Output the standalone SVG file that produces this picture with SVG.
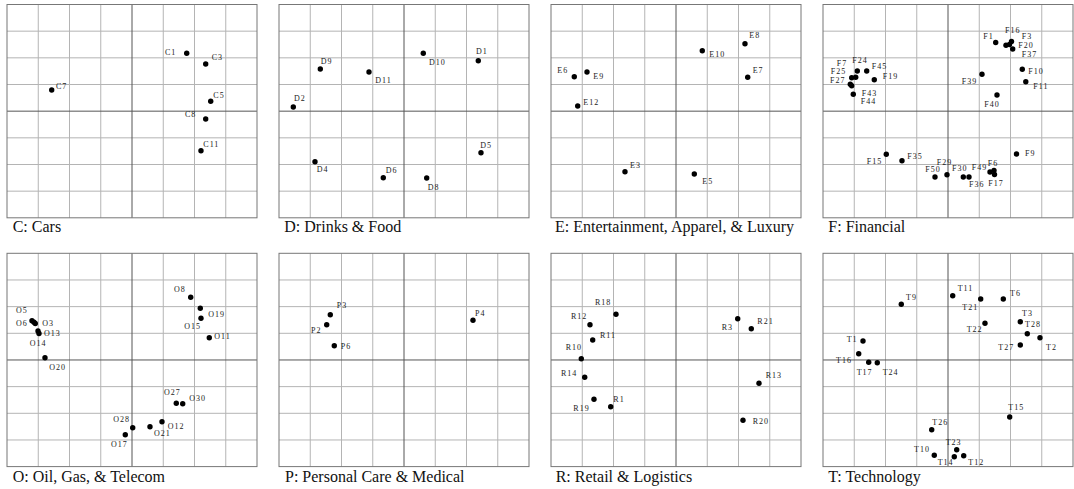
<svg xmlns="http://www.w3.org/2000/svg" width="1074" height="489" viewBox="0 0 1074 489">
<style>
.g{stroke:#b4b4b4;stroke-width:1;fill:none}
.c{stroke:#555;stroke-width:1;fill:none}
.b{stroke:#777;stroke-width:1;fill:none}
circle{fill:#000}
.pt text{font-family:"Liberation Serif",serif;font-size:8px;letter-spacing:1px;fill:#222}
.tt{font-family:"Liberation Serif",serif;font-size:16px;fill:#111}
</style>
<defs>
<g id="grid">
<rect x="0" y="0" width="250" height="213.3" fill="#fff"/>
<path class="g" d="M31.25,0V213.3M62.5,0V213.3M93.75,0V213.3M156.25,0V213.3M187.5,0V213.3M218.75,0V213.3M0,26.67H250M0,53.33H250M0,80H250M0,133.33H250M0,160H250M0,186.67H250"/>
<path class="c" d="M125,0V213.3M0,106.67H250"/>
<rect class="b" x="0" y="0" width="250" height="213.3"/>
</g>
</defs>
<rect width="1074" height="489" fill="#fff"/>

<g id="panel-C">
<use href="#grid" x="7" y="4.5"/>
<text class="tt" x="12.7" y="232">C: Cars</text>
<g class="pt" id="C1"><circle cx="186.7" cy="53.3" r="2.7"/><text x="165" y="54.5">C1</text></g>
<g class="pt" id="C3"><circle cx="205.7" cy="64" r="2.7"/><text x="211.7" y="60">C3</text></g>
<g class="pt" id="C7"><circle cx="51.7" cy="90" r="2.7"/><text x="56" y="88.5">C7</text></g>
<g class="pt" id="C5"><circle cx="210.7" cy="101.3" r="2.7"/><text x="213.3" y="97.8">C5</text></g>
<g class="pt" id="C8"><circle cx="205.7" cy="119" r="2.7"/><text x="185" y="117">C8</text></g>
<g class="pt" id="C11"><circle cx="201" cy="150.7" r="2.7"/><text x="203.3" y="147">C11</text></g>
</g>

<g id="panel-D">
<use href="#grid" x="279" y="4.5"/>
<text class="tt" x="284.3" y="232">D: Drinks &amp; Food</text>
<g class="pt" id="D10"><circle cx="423.3" cy="53.3" r="2.7"/><text x="429" y="64.5">D10</text></g>
<g class="pt" id="D1"><circle cx="478.3" cy="60.7" r="2.7"/><text x="476" y="53.5">D1</text></g>
<g class="pt" id="D9"><circle cx="320.3" cy="69" r="2.7"/><text x="320.7" y="63.5">D9</text></g>
<g class="pt" id="D11"><circle cx="369" cy="72" r="2.7"/><text x="375.3" y="82.8">D11</text></g>
<g class="pt" id="D2"><circle cx="293.3" cy="107" r="2.7"/><text x="294" y="101">D2</text></g>
<g class="pt" id="D5"><circle cx="481" cy="152.7" r="2.7"/><text x="480.3" y="147.5">D5</text></g>
<g class="pt" id="D4"><circle cx="315" cy="161.7" r="2.7"/><text x="316.7" y="171.8">D4</text></g>
<g class="pt" id="D6"><circle cx="383.3" cy="177.7" r="2.7"/><text x="385.7" y="172.8">D6</text></g>
<g class="pt" id="D8"><circle cx="426.7" cy="178" r="2.7"/><text x="427.7" y="190">D8</text></g>
</g>

<g id="panel-E">
<use href="#grid" x="551" y="4.5"/>
<text class="tt" x="555" y="232">E: Entertainment, Apparel, &amp; Luxury</text>
<g class="pt" id="E8"><circle cx="745" cy="43.7" r="2.7"/><text x="749.3" y="37.8">E8</text></g>
<g class="pt" id="E10"><circle cx="702.3" cy="50.7" r="2.7"/><text x="709.3" y="57">E10</text></g>
<g class="pt" id="E6"><circle cx="574.3" cy="76.7" r="2.7"/><text x="557.3" y="72.8">E6</text></g>
<g class="pt" id="E9"><circle cx="587" cy="72" r="2.7"/><text x="593.3" y="78.8">E9</text></g>
<g class="pt" id="E7"><circle cx="747.7" cy="77.3" r="2.7"/><text x="752.7" y="72.8">E7</text></g>
<g class="pt" id="E12"><circle cx="577.7" cy="106" r="2.7"/><text x="583.3" y="105">E12</text></g>
<g class="pt" id="E3"><circle cx="625" cy="171.7" r="2.7"/><text x="630" y="167.8">E3</text></g>
<g class="pt" id="E5"><circle cx="694.3" cy="174" r="2.7"/><text x="702.3" y="183.8">E5</text></g>
</g>

<g id="panel-F">
<use href="#grid" x="823" y="4.5"/>
<text class="tt" x="828.3" y="232">F: Financial</text>
<g class="pt" id="F1"><circle cx="995.7" cy="42.5" r="2.7"/><text x="983.3" y="39">F1</text></g>
<g class="pt" id="F16"><circle cx="1011.5" cy="41.5" r="2.7"/><text x="1005" y="33">F16</text></g>
<g class="pt" id="F3"><circle cx="1009.5" cy="44.5" r="2.7"/><text x="1021.7" y="38.8">F3</text></g>
<g class="pt" id="F20"><circle cx="1006" cy="45.3" r="2.7"/><text x="1018.3" y="47.8">F20</text></g>
<g class="pt" id="F37"><circle cx="1012.7" cy="49" r="2.7"/><text x="1021.7" y="56.8">F37</text></g>
<g class="pt" id="F10"><circle cx="1022.3" cy="69.2" r="2.7"/><text x="1028.3" y="73.5">F10</text></g>
<g class="pt" id="F11"><circle cx="1025.8" cy="81.8" r="2.7"/><text x="1033.3" y="88.5">F11</text></g>
<g class="pt" id="F39"><circle cx="982" cy="74.3" r="2.7"/><text x="961.7" y="83.5">F39</text></g>
<g class="pt" id="F40"><circle cx="997" cy="95" r="2.7"/><text x="984.3" y="106.8">F40</text></g>
<g class="pt" id="F24"><circle cx="857.3" cy="71" r="2.7"/><text x="852.3" y="62.8">F24</text></g>
<g class="pt" id="F45"><circle cx="866.7" cy="71" r="2.7"/><text x="871.7" y="68.5">F45</text></g>
<g class="pt" id="F7"><circle cx="855.7" cy="77.3" r="2.7"/><text x="836.7" y="65.5">F7</text></g>
<g class="pt" id="F25"><circle cx="851.7" cy="77.7" r="2.7"/><text x="830.7" y="74.3">F25</text></g>
<g class="pt" id="F19"><circle cx="874.3" cy="79.7" r="2.7"/><text x="882.7" y="78.8">F19</text></g>
<g class="pt" id="F27"><circle cx="850.3" cy="84.3" r="2.7"/><text x="830" y="83.3">F27</text></g>
<g class="pt" id="F43"><circle cx="851.7" cy="85.7" r="2.7"/><text x="861.7" y="95.5">F43</text></g>
<g class="pt" id="F44"><circle cx="853.3" cy="94.3" r="2.7"/><text x="860.7" y="104.3">F44</text></g>
<g class="pt" id="F9"><circle cx="1016.5" cy="154" r="2.7"/><text x="1025" y="155.5">F9</text></g>
<g class="pt" id="F15"><circle cx="886.3" cy="154.3" r="2.7"/><text x="866.7" y="163.5">F15</text></g>
<g class="pt" id="F35"><circle cx="902" cy="160.7" r="2.7"/><text x="907.3" y="158.5">F35</text></g>
<g class="pt" id="F29"><circle cx="947" cy="174.7" r="2.7"/><text x="936.7" y="164.5">F29</text></g>
<g class="pt" id="F50"><circle cx="935" cy="177" r="2.7"/><text x="925.3" y="172">F50</text></g>
<g class="pt" id="F30"><circle cx="963.3" cy="177" r="2.7"/><text x="952" y="171">F30</text></g>
<g class="pt" id="F36"><circle cx="969" cy="177" r="2.7"/><text x="969" y="187">F36</text></g>
<g class="pt" id="F49"><circle cx="990" cy="172" r="2.7"/><text x="971.7" y="169.5">F49</text></g>
<g class="pt" id="F6"><circle cx="994" cy="170.5" r="2.7"/><text x="987.7" y="165.5">F6</text></g>
<g class="pt" id="F17"><circle cx="994.5" cy="174.5" r="2.7"/><text x="988.3" y="186">F17</text></g>
</g>

<g id="panel-O">
<use href="#grid" x="7" y="253.3"/>
<text class="tt" x="12.7" y="481.5">O: Oil, Gas, &amp; Telecom</text>
<g class="pt" id="O8"><circle cx="190.7" cy="297.3" r="2.7"/><text x="174" y="291.8">O8</text></g>
<g class="pt" id="O19"><circle cx="200.3" cy="308.3" r="2.7"/><text x="208.3" y="316.8">O19</text></g>
<g class="pt" id="O15"><circle cx="201" cy="318.3" r="2.7"/><text x="184.3" y="328.8">O15</text></g>
<g class="pt" id="O11"><circle cx="209.3" cy="337.7" r="2.7"/><text x="214.3" y="338.8">O11</text></g>
<g class="pt" id="O5"><circle cx="32" cy="320.7" r="2.7"/><text x="16" y="312.8">O5</text></g>
<g class="pt" id="O6"><circle cx="34" cy="322.3" r="2.7"/><text x="16" y="326">O6</text></g>
<g class="pt" id="O3"><circle cx="35.3" cy="323.5" r="2.7"/><text x="42.3" y="325.5">O3</text></g>
<g class="pt" id="O14"><circle cx="38" cy="331" r="2.7"/><text x="29.7" y="346">O14</text></g>
<g class="pt" id="O13"><circle cx="39" cy="333.5" r="2.7"/><text x="44" y="336">O13</text></g>
<g class="pt" id="O20"><circle cx="45" cy="357.7" r="2.7"/><text x="49.3" y="369.5">O20</text></g>
<g class="pt" id="O27"><circle cx="176.3" cy="403.3" r="2.7"/><text x="164" y="394.8">O27</text></g>
<g class="pt" id="O30"><circle cx="182.7" cy="403.7" r="2.7"/><text x="189.3" y="401">O30</text></g>
<g class="pt" id="O12"><circle cx="162" cy="421.7" r="2.7"/><text x="167.7" y="429">O12</text></g>
<g class="pt" id="O21"><circle cx="150" cy="426.7" r="2.7"/><text x="154" y="435.5">O21</text></g>
<g class="pt" id="O28"><circle cx="132.7" cy="427.7" r="2.7"/><text x="113.3" y="421.8">O28</text></g>
<g class="pt" id="O17"><circle cx="125.3" cy="434.7" r="2.7"/><text x="111" y="447">O17</text></g>
</g>

<g id="panel-P">
<use href="#grid" x="279" y="253.3"/>
<text class="tt" x="285" y="481.5">P: Personal Care &amp; Medical</text>
<g class="pt" id="P3"><circle cx="330.3" cy="314.7" r="2.7"/><text x="336.7" y="308">P3</text></g>
<g class="pt" id="P2"><circle cx="326.7" cy="324.7" r="2.7"/><text x="311" y="332.8">P2</text></g>
<g class="pt" id="P6"><circle cx="334.3" cy="345.7" r="2.7"/><text x="340.7" y="348.8">P6</text></g>
<g class="pt" id="P4"><circle cx="473" cy="320.3" r="2.7"/><text x="475" y="316">P4</text></g>
</g>

<g id="panel-R">
<use href="#grid" x="551" y="253.3"/>
<text class="tt" x="555.7" y="481.5">R: Retail &amp; Logistics</text>
<g class="pt" id="R18"><circle cx="616" cy="314.3" r="2.7"/><text x="595" y="304.5">R18</text></g>
<g class="pt" id="R12"><circle cx="590" cy="324.7" r="2.7"/><text x="571" y="318.8">R12</text></g>
<g class="pt" id="R11"><circle cx="592.7" cy="340" r="2.7"/><text x="600" y="338">R11</text></g>
<g class="pt" id="R10"><circle cx="581.3" cy="358.7" r="2.7"/><text x="565.7" y="349.8">R10</text></g>
<g class="pt" id="R14"><circle cx="584.7" cy="377.3" r="2.7"/><text x="561" y="375.8">R14</text></g>
<g class="pt" id="R19"><circle cx="594" cy="399.3" r="2.7"/><text x="573.3" y="410.5">R19</text></g>
<g class="pt" id="R1"><circle cx="610.7" cy="406.7" r="2.7"/><text x="613.3" y="401.8">R1</text></g>
<g class="pt" id="R3"><circle cx="737.7" cy="318.7" r="2.7"/><text x="721.7" y="329.5">R3</text></g>
<g class="pt" id="R21"><circle cx="751.3" cy="328.7" r="2.7"/><text x="757.3" y="323.5">R21</text></g>
<g class="pt" id="R13"><circle cx="759" cy="383.3" r="2.7"/><text x="765.7" y="377.5">R13</text></g>
<g class="pt" id="R20"><circle cx="743" cy="420.3" r="2.7"/><text x="752.7" y="423.5">R20</text></g>
</g>

<g id="panel-T">
<use href="#grid" x="823" y="253.3"/>
<text class="tt" x="828.3" y="481.5">T: Technology</text>
<g class="pt" id="T11"><circle cx="952.7" cy="295.7" r="2.7"/><text x="957.7" y="290.5">T11</text></g>
<g class="pt" id="T21"><circle cx="980.7" cy="299" r="2.7"/><text x="962.3" y="309.5">T21</text></g>
<g class="pt" id="T6"><circle cx="1003.3" cy="299" r="2.7"/><text x="1010" y="295.5">T6</text></g>
<g class="pt" id="T9"><circle cx="901.3" cy="304.3" r="2.7"/><text x="906" y="300">T9</text></g>
<g class="pt" id="T3"><circle cx="1020.3" cy="321.7" r="2.7"/><text x="1022" y="316">T3</text></g>
<g class="pt" id="T22"><circle cx="985" cy="323.3" r="2.7"/><text x="966.7" y="332">T22</text></g>
<g class="pt" id="T28"><circle cx="1027.3" cy="333.7" r="2.7"/><text x="1025" y="327">T28</text></g>
<g class="pt" id="T2"><circle cx="1040" cy="337.7" r="2.7"/><text x="1046" y="349.5">T2</text></g>
<g class="pt" id="T27"><circle cx="1020.3" cy="345" r="2.7"/><text x="998.3" y="350">T27</text></g>
<g class="pt" id="T1"><circle cx="863" cy="341" r="2.7"/><text x="846.7" y="342">T1</text></g>
<g class="pt" id="T16"><circle cx="858.7" cy="353.7" r="2.7"/><text x="836" y="363">T16</text></g>
<g class="pt" id="T17"><circle cx="868.7" cy="362.3" r="2.7"/><text x="856.7" y="374.5">T17</text></g>
<g class="pt" id="T24"><circle cx="877.3" cy="362.7" r="2.7"/><text x="882.7" y="374.5">T24</text></g>
<g class="pt" id="T15"><circle cx="1009.7" cy="417" r="2.7"/><text x="1008.3" y="409.5">T15</text></g>
<g class="pt" id="T26"><circle cx="931.7" cy="429.7" r="2.7"/><text x="932.3" y="424.5">T26</text></g>
<g class="pt" id="T23"><circle cx="956.7" cy="449.7" r="2.7"/><text x="945.7" y="445">T23</text></g>
<g class="pt" id="T10"><circle cx="934.3" cy="455.3" r="2.7"/><text x="914" y="451.8">T10</text></g>
<g class="pt" id="T14"><circle cx="954.3" cy="456.7" r="2.7"/><text x="937.7" y="464.8">T14</text></g>
<g class="pt" id="T12"><circle cx="963.7" cy="455.7" r="2.7"/><text x="968.3" y="464.8">T12</text></g>
</g>
</svg>
